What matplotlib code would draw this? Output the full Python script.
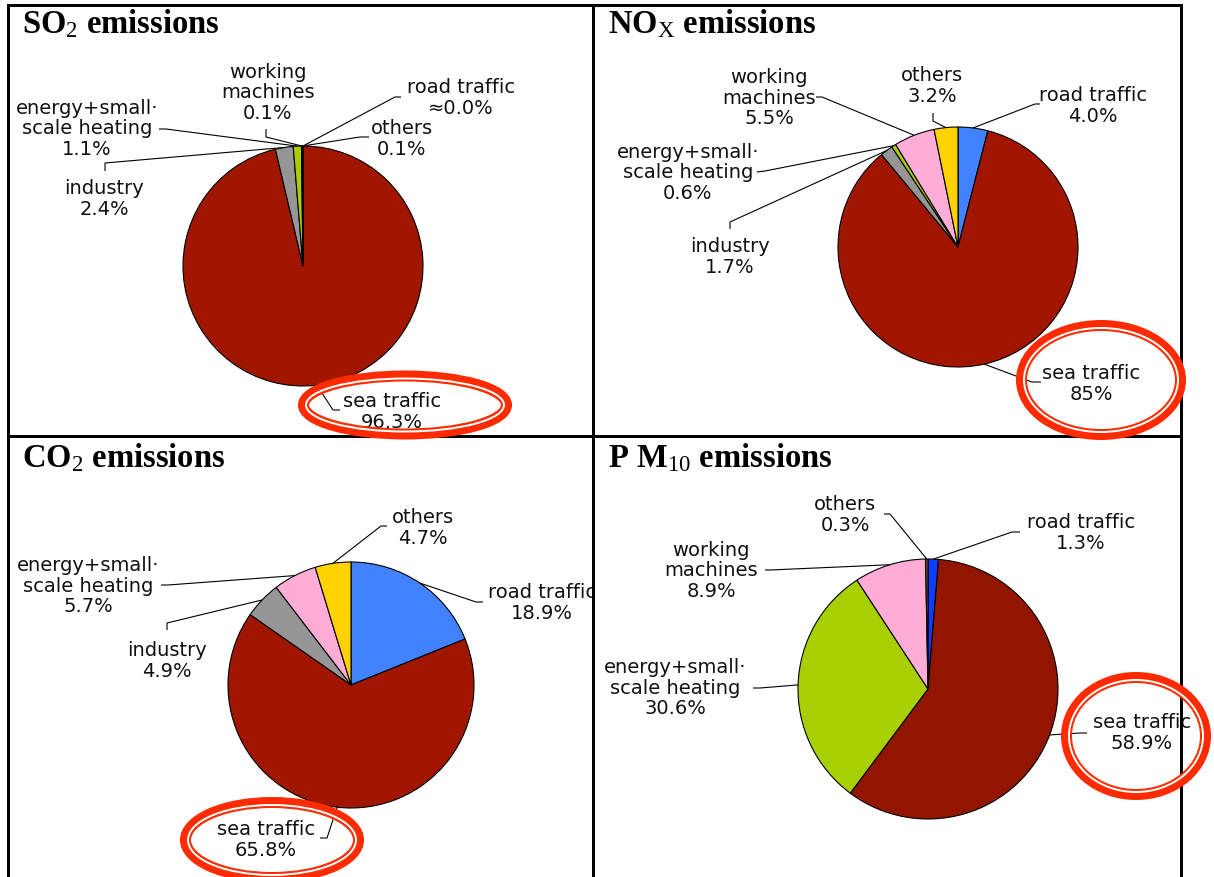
import math
import matplotlib
matplotlib.use("Agg")
import matplotlib.pyplot as plt
from matplotlib.patches import Ellipse, Rectangle

W, H = 1214, 877
DPI = 100

plt.rcParams["mathtext.fontset"] = "custom"
plt.rcParams["mathtext.rm"] = "Liberation Serif"
plt.rcParams["mathtext.bf"] = "Liberation Serif:bold"
plt.rcParams["mathtext.it"] = "Liberation Serif"

# ---- data -------------------------------------------------------------
so2_sources = ["road traffic", "sea traffic", "industry",
               "energy+small·\nscale heating", "working\nmachines", "others"]
so2_values = [0.0, 96.3, 2.4, 1.1, 0.1, 0.1]

nox_sources = ["road traffic", "sea traffic", "industry",
               "energy+small·\nscale heating", "working\nmachines", "others"]
nox_values = [4.0, 85, 1.7, 0.6, 5.5, 3.2]

co2_sources = ["road traffic", "sea traffic", "industry",
               "energy+small·\nscale heating", "others"]
co2_values = [18.9, 65.8, 4.9, 5.7, 4.7]

pm10_sources = ["road traffic", "sea traffic", "energy+small·\nscale heating",
                "working\nmachines", "others"]
pm10_values = [1.3, 58.9, 30.6, 8.9, 0.3]

# ---- colours ----------------------------------------------------------
BLUE = "#4382FF"
RED = "#A11600"
GREY = "#969696"
GREEN = "#A8D000"
PINK = "#FFADD6"
YELLOW = "#FFD200"
RING = "#FF2B00"

so2_colors = [BLUE, RED, GREY, GREEN, PINK, YELLOW]
nox_colors = [BLUE, RED, GREY, GREEN, PINK, YELLOW]
co2_colors = [BLUE, RED, GREY, PINK, YELLOW]
pm10_colors = ["#0F3DFF", "#921500", GREEN, PINK, "#7A5A55"]


def pct(v):
    return ("≈" if v < 0.05 else "") + f"{v}%"


fig = plt.figure(figsize=(W / DPI, H / DPI), dpi=DPI)
ax = fig.add_axes([0, 0, 1, 1])
ax.set_xlim(0, W)
ax.set_ylim(H, 0)
ax.set_aspect("equal")
ax.axis("off")

PX = 72.0 / DPI  # one pixel in points
LABEL_SIZE = 14


def draw_panel(title, title_xy, sources, values, colors, center, radius,
               layout, ring, clip):
    clip_rect = Rectangle((clip[0], clip[1]), clip[2] - clip[0],
                          clip[3] - clip[1], transform=ax.transData)
    ax.text(title_xy[0], title_xy[1], title, family="Liberation Serif",
            fontweight="bold", fontsize=23.5, ha="left", va="baseline")
    wedges, _ = ax.pie(values, colors=colors, startangle=-90,
                       counterclock=True, center=center, radius=radius,
                       frame=True,
                       wedgeprops=dict(edgecolor="black", linewidth=0.8))
    for w in wedges:
        w.set_clip_path(clip_rect)
    cx, cy = center
    for w, name, v, spec in zip(wedges, sources, values, layout):
        tx, ty, elbow, end = spec
        t = ax.text(tx, ty, name + "\n" + pct(v), fontsize=LABEL_SIZE,
                    family="DejaVu Sans", ha="center", va="center",
                    multialignment="center", linespacing=1.12,
                    color="#111111")
        t.set_clip_path(clip_rect)
        mid = math.radians((w.theta1 + w.theta2) / 2.0)
        sx = cx + radius * math.cos(mid)
        sy = cy + radius * math.sin(mid)
        ln, = ax.plot([sx, elbow[0], end[0]], [sy, elbow[1], end[1]],
                      color="black", lw=0.8, solid_capstyle="butt")
        ln.set_clip_path(clip_rect)
    # highlight ring around the dominant source
    (ex, ey), (a, b) = ring
    outer = Ellipse((ex, ey), 2 * (a - 5.5), 2 * (b - 5.5), fill=False,
                    edgecolor=RING, lw=11 * PX, zorder=6)
    gap = Ellipse((ex, ey), 2 * (a - 8), 2 * (b - 8), fill=False,
                  edgecolor="white", lw=2 * PX, zorder=7)
    ax.add_patch(outer)
    ax.add_patch(gap)


# label layout: (text x, text y, elbow point, end point) per source
so2_layout = [
    (461, 98, (395, 97), (401, 97)),
    (392, 412, (333, 410), (340, 410)),
    (104, 199, (105, 163), (105, 171)),
    (87, 129, (166, 129), (159, 129)),
    (268, 93, (266, 137), (266, 129)),
    (402, 139, (360, 137), (369, 137)),
]
nox_layout = [
    (1093, 106, (1035, 104), (1040, 104)),
    (1091, 384, (1032, 382), (1041, 382)),
    (730, 257, (730, 222), (730, 229)),
    (688, 173, (765, 171), (757, 172)),
    (769, 98, (822, 97), (816, 97)),
    (932, 86, (933, 121), (933, 113)),
]
co2_layout = [
    (542, 603, (476, 602), (483, 602)),
    (266, 840, (327, 838), (320, 838)),
    (167, 661, (167, 623), (167, 630)),
    (88, 586, (168, 585), (161, 585)),
    (423, 528, (381, 526), (387, 526)),
]
pm10_layout = [
    (1081, 533, (1012, 532), (1020, 532)),
    (1142, 733, (1080, 733), (1087, 733)),
    (675, 688, (760, 688), (753, 688)),
    (711, 571, (770, 570), (765, 570)),
    (845, 515, (890, 514), (884, 514)),
]

draw_panel(r"SO$_2$ emissions", (22, 33), so2_sources, so2_values,
           so2_colors, (303, 266), 120, so2_layout,
           ((405, 405), (107, 34.5)), (8, 5, 593, 436))
draw_panel(r"NO$_\mathrm{X}$ emissions", (608, 33), nox_sources, nox_values,
           nox_colors, (958, 247), 120, nox_layout,
           ((1101, 380), (85, 60)), (593, 5, 1181, 436))
draw_panel(r"CO$_2$ emissions", (22, 467), co2_sources, co2_values,
           co2_colors, (351, 685), 123, co2_layout,
           ((272, 840), (92, 43)), (8, 436, 596, 877))
draw_panel(r"P M$_{10}$ emissions", (608, 467), pm10_sources, pm10_values,
           pm10_colors, (928, 689), 130, pm10_layout,
           ((1136, 736), (75, 64)), (593, 436, 1181, 877))

# panel frame
frame_kw = dict(color="black", lw=3 * PX, zorder=5, solid_capstyle="projecting")
ax.plot([8, 1181], [5, 5], **frame_kw)
ax.plot([8, 1181], [436, 436], **frame_kw)
ax.plot([8, 8], [5, H + 5], **frame_kw)
ax.plot([593, 593], [5, H + 5], **frame_kw)
ax.plot([1181, 1181], [5, H + 5], **frame_kw)

ax.set_xlim(0, W)
ax.set_ylim(H, 0)

fig.savefig("out.png", dpi=DPI, facecolor="white")
